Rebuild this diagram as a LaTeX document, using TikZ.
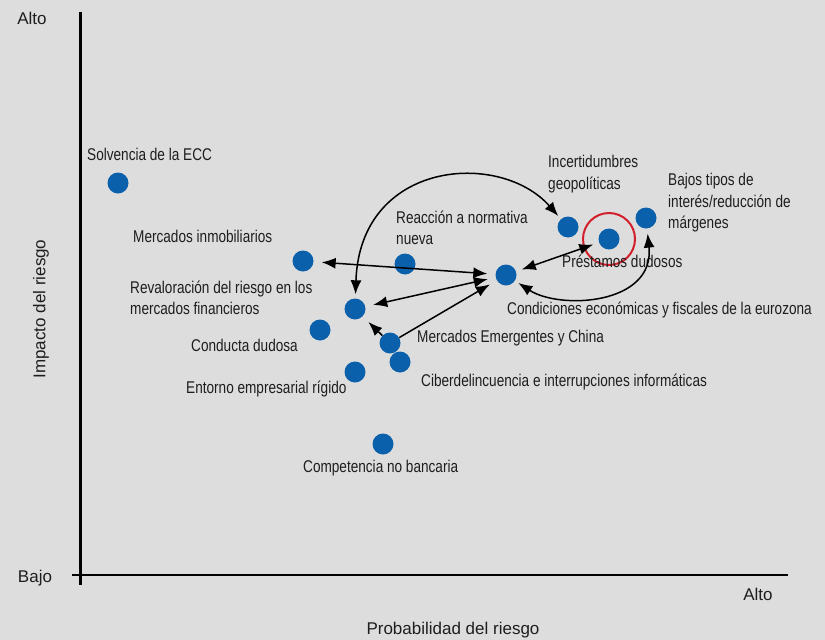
\documentclass[tikz,border=0pt]{standalone}
\usepackage{fontspec}
\setmainfont{Liberation Sans}[FakeStretch=0.8]
\newfontfamily\axisfont{Liberation Sans}
\usetikzlibrary{arrows.meta}
\definecolor{bg}{HTML}{DDDDDD}
\definecolor{dotblue}{HTML}{0B60AC}
\definecolor{ringred}{HTML}{D21F2B}
\definecolor{txt}{HTML}{1E1E1E}
\begin{document}
\begin{tikzpicture}[x=1pt,y=-1pt,
  dot/.style={circle,fill=dotblue,minimum size=21pt,inner sep=0pt},
  lbl/.style={inner sep=0pt,text=txt,font=\fontsize{17}{21.5}\selectfont,align=left,anchor=west},
  axlbl/.style={inner sep=0pt,text=txt,font=\axisfont\fontsize{17}{21.5}\selectfont,anchor=center},
  axis/.style={line width=2.8pt,black},
  tip/.tip={Latex[length=14pt,width=11pt]},
  conn/.style={line width=1.5pt,black,tip-tip,shorten <=8pt,shorten >=8pt},
  oneway/.style={line width=1.5pt,black,-tip,shorten >=8pt}]
\fill[bg] (0,0) rectangle (825,640);
\useasboundingbox (0,0) rectangle (825,640);
% axes
\coordinate (ytop) at (80.5,12);
\coordinate (ybot) at (80.5,585);
\coordinate (xl) at (72,575);
\coordinate (xr) at (788,575);
\draw[axis] (ytop) -- (ybot);
\draw[axis] (xl) -- (xr);
\node[axlbl] (altoy) at (32,18) {Alto};
\node[axlbl] (bajo) at (35,578) {Bajo};
\node[axlbl] (altox) at (758,594) {Alto};
\node[axlbl] (xlab) at (453,630) {Probabilidad del riesgo};
\node[axlbl,rotate=90] (ylab) at (41,309) {Impacto del riesgo};
% dots
\node[dot] (solv) at (118,183) {};
\node[dot] (inmo) at (303,261) {};
\node[dot] (reac) at (405,264) {};
\node[dot] (cond) at (506,275) {};
\node[dot] (inc) at (568,227) {};
\node[dot] (prest) at (609,239) {};
\node[dot] (bajos) at (646,218) {};
\node[dot] (reval) at (355,309) {};
\node[dot] (cond2) at (320,330) {};
\node[dot] (emerg) at (390,343) {};
\node[dot] (ciber) at (400,362) {};
\node[dot] (entor) at (355,372) {};
\node[dot] (compe) at (383,444) {};
\node[circle,draw=ringred,line width=2pt,minimum size=52pt,inner sep=0pt] (ring) at (609,239) {};
% labels
\node[lbl] (lsolv) at (87,154) {Solvencia de la ECC};
\node[lbl] (linmo) at (133,236) {Mercados inmobiliarios};
\node[lbl] (lreac) at (396,228) {Reacción a normativa\\nueva};
\node[lbl] (linc) at (548,174) {Incertidumbres\\geopolíticas};
\node[lbl] (lbajos) at (668,203) {Bajos tipos de\\interés/reducción de\\márgenes};
\node[lbl] (lprest) at (562,261) {Préstamos dudosos};
\node[lbl] (lreval) at (130,298) {Revaloración del riesgo en los\\mercados financieros};
\node[lbl] (lcond) at (507,310) {Condiciones económicas y fiscales de la eurozona};
\node[lbl] (lcond2) at (191,345) {Conducta dudosa};
\node[lbl] (lemerg) at (417,338) {Mercados Emergentes y China};
\node[lbl] (lciber) at (421,382) {Ciberdelincuencia e interrupciones informáticas};
\node[lbl] (lentor) at (186,389) {Entorno empresarial rígido};
\node[lbl] (lcompe) at (303,468) {Competencia no bancaria};
% connectors
\draw[conn] (inmo) -- (cond);
\draw[conn] (reval) -- (cond);
\draw[oneway] (emerg) -- (cond);
\draw[oneway] (emerg) -- (reval);
\draw[conn,shorten <=6pt,shorten >=6pt] (cond) -- (prest);
\draw[conn,shorten <=4pt,shorten >=4pt] (reval) .. controls (360,160) and (500,150) .. (inc);
\draw[conn,shorten <=4pt,shorten >=5pt] (cond) .. controls (560,310) and (655,305) .. (bajos);
\end{tikzpicture}
\end{document}
